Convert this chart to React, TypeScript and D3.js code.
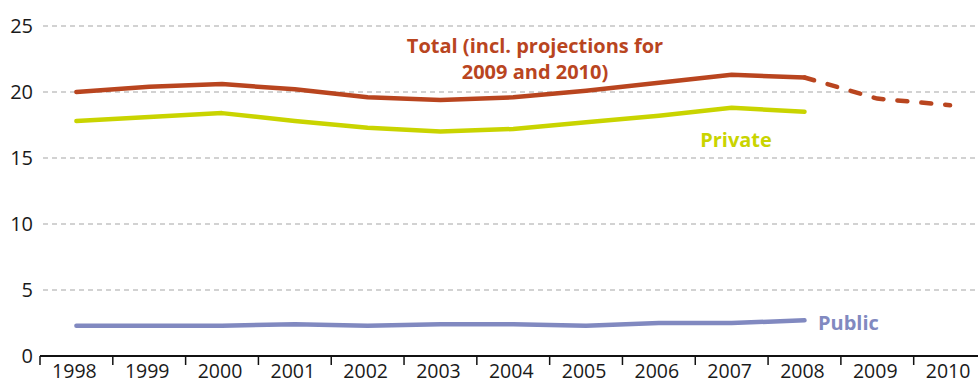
import React from "react";
import * as d3 from "d3";

const years = ["1998","1999","2000","2001","2002","2003","2004","2005","2006","2007","2008","2009","2010"];
const totalValues = [20.0, 20.4, 20.6, 20.2, 19.6, 19.4, 19.6, 20.1, 20.7, 21.3, 21.1, 19.5, 19.0];
const privateValues = [17.8, 18.1, 18.4, 17.8, 17.3, 17.0, 17.2, 17.7, 18.2, 18.8, 18.5];
const publicValues = [2.3, 2.3, 2.3, 2.4, 2.3, 2.4, 2.4, 2.3, 2.5, 2.5, 2.7];
const yTicks = [0, 5, 10, 15, 20, 25];
const projectionStart = 10; // index of 2008, last actual value

const W = 978, H = 383;
const FONT = "'Open Sans', 'Noto Sans', sans-serif";

export default function App() {
  const x = d3.scaleBand<string>().domain(years).range([40, 986.5]).padding(0);
  const y = d3.scaleLinear().domain([0, 25]).range([356, 26]);
  const cx = (i: number) => (x(years[i]) as number) + x.bandwidth() / 2;

  const line = d3.line<number>().x((_, i) => cx(i)).y(d => y(d));
  const totalActual = totalValues.slice(0, projectionStart + 1);
  const totalProj = d3.line<[number, number]>().x(d => cx(d[0])).y(d => y(d[1]))(
    totalValues.slice(projectionStart).map((v, k) => [projectionStart + k, v] as [number, number])
  );

  return (
    <svg width={W} height={H} style={{ position: "absolute", left: 0, top: 0, background: "#fff" }}>
      {yTicks.filter(t => t > 0).map(t => (
        <line key={t} x1={43} x2={W} y1={y(t)} y2={y(t)} stroke="#a6a6a6" strokeWidth={1.2} strokeDasharray="5 4" />
      ))}
      {yTicks.map(t => (
        <text key={t} x={33} y={y(t) + 7} textAnchor="end" fontFamily={FONT} fontSize={20} fill="#1a1a1a">{t}</text>
      ))}
      <path d={line(publicValues) || ""} fill="none" stroke="#8189c0" strokeWidth={4.5} strokeLinecap="round" strokeLinejoin="round" />
      <path d={line(privateValues) || ""} fill="none" stroke="#c9d400" strokeWidth={4.5} strokeLinecap="round" strokeLinejoin="round" />
      <path d={line(totalActual) || ""} fill="none" stroke="#b9451f" strokeWidth={4.5} strokeLinecap="round" strokeLinejoin="round" />
      <path d={totalProj || ""} fill="none" stroke="#b9451f" strokeWidth={4.5} strokeDasharray="10 14" strokeLinecap="round" />
      <line x1={40} x2={W} y1={356} y2={356} stroke="#111" strokeWidth={2} />
      {years.map(yr => (
        <line key={yr} x1={x(yr) as number} x2={x(yr) as number} y1={356} y2={365} stroke="#111" strokeWidth={1.5} />
      ))}
      {years.map((yr, i) => (
        <text key={yr} x={cx(i) - 2} y={378} textAnchor="middle" fontFamily={FONT} fontSize={19.5} fill="#1a1a1a">{yr}</text>
      ))}
      <text x={535} y={53} textAnchor="middle" fontFamily={FONT} fontWeight="bold" fontSize={20} fill="#b9451f">Total (incl. projections for</text>
      <text x={535} y={79} textAnchor="middle" fontFamily={FONT} fontWeight="bold" fontSize={20} fill="#b9451f">2009 and 2010)</text>
      <text x={736} y={147} textAnchor="middle" fontFamily={FONT} fontWeight="bold" fontSize={20} fill="#c9d400">Private</text>
      <text x={818} y={330} textAnchor="start" fontFamily={FONT} fontWeight="bold" fontSize={20} fill="#8189c0">Public</text>
    </svg>
  );
}
